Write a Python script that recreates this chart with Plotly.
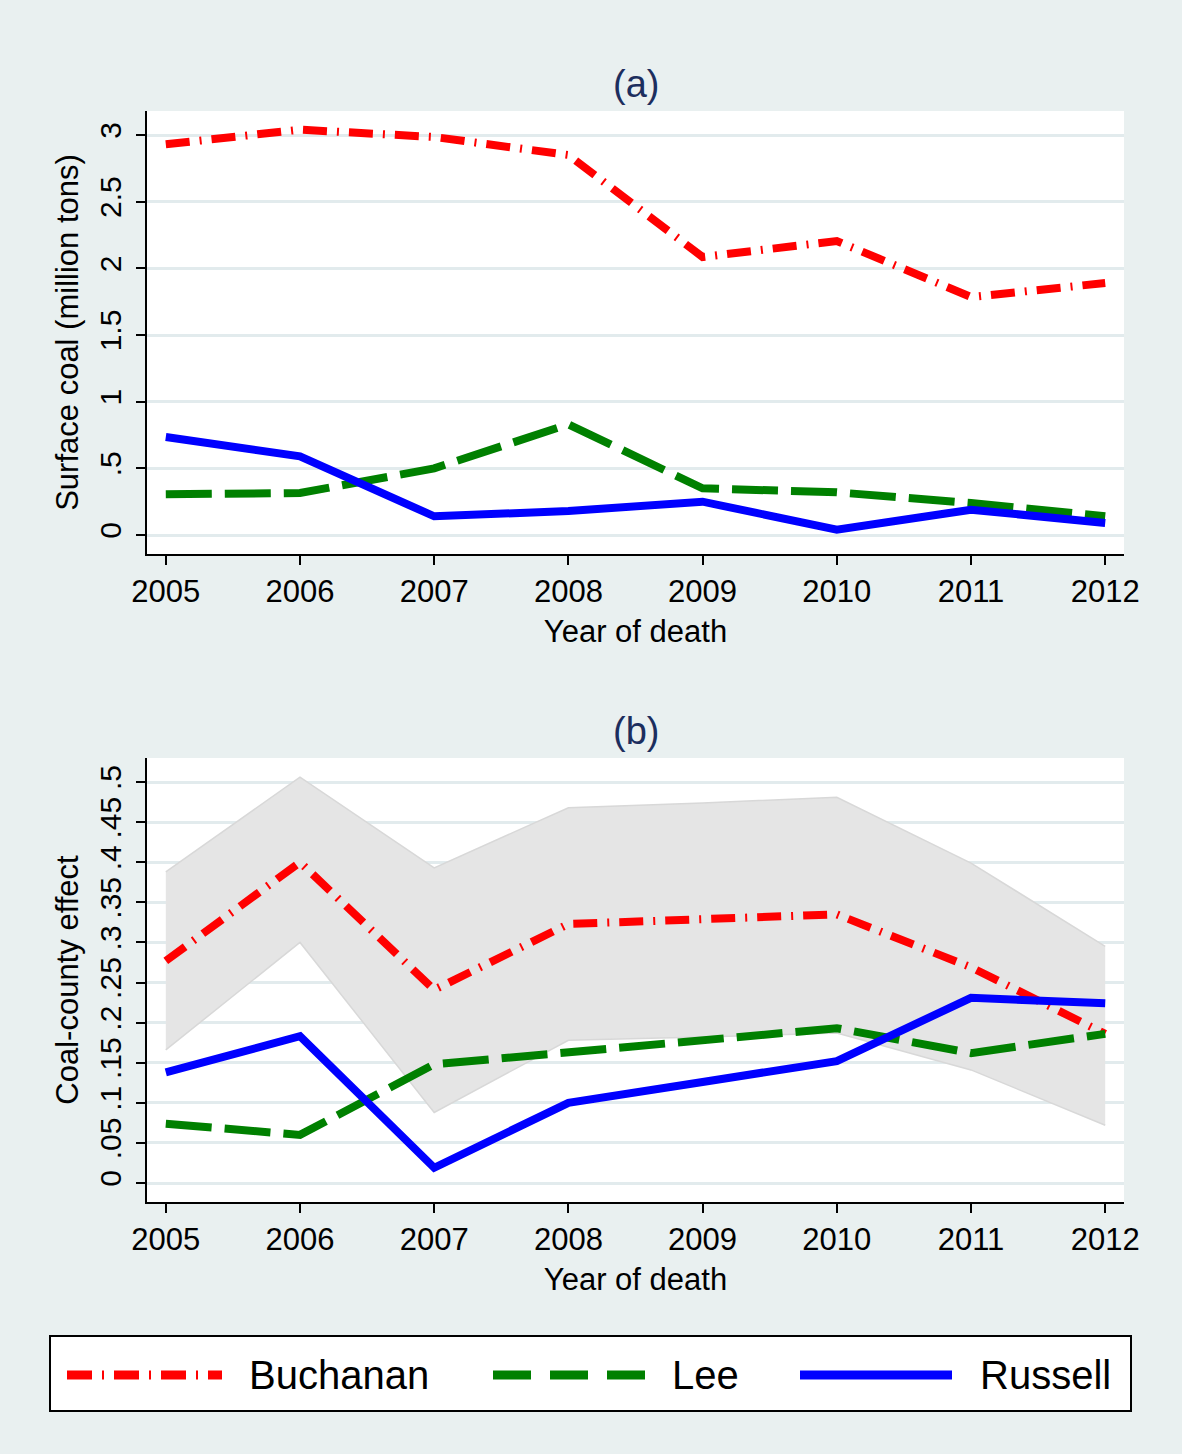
import plotly.graph_objects as go
from plotly.subplots import make_subplots

years = [2005, 2006, 2007, 2008, 2009, 2010, 2011, 2012]

# panel (a): surface coal, million tons
coal_buchanan = [2.93, 3.04, 2.985, 2.85, 2.085, 2.205, 1.785, 1.89]
coal_lee = [0.305, 0.315, 0.50, 0.83, 0.35, 0.32, 0.24, 0.14]
coal_russell = [0.735, 0.59, 0.14, 0.18, 0.25, 0.04, 0.19, 0.09]

# panel (b): coal-county effect
eff_buchanan = [0.277, 0.40, 0.241, 0.323, 0.329, 0.335, 0.269, 0.186]
eff_lee = [0.074, 0.06, 0.148, 0.163, 0.178, 0.193, 0.162, 0.186]
eff_russell = [0.138, 0.183, 0.019, 0.10, 0.126, 0.152, 0.231, 0.224]
ci_upper = [0.388, 0.506, 0.393, 0.468, 0.474, 0.481, 0.399, 0.295]
ci_lower = [0.166, 0.30, 0.088, 0.178, 0.182, 0.187, 0.141, 0.072]

ticks_a = [0, 0.5, 1, 1.5, 2, 2.5, 3]
ticklabels_a = ["0", ".5", "1", "1.5", "2", "2.5", "3"]
ticks_b = [0, 0.05, 0.1, 0.15, 0.2, 0.25, 0.3, 0.35, 0.4, 0.45, 0.5]
ticklabels_b = ["0", ".05", ".1", ".15", ".2", ".25", ".3", ".35", ".4", ".45", ".5"]

counties = ["Buchanan", "Lee", "Russell"]
colors = {"Buchanan": "#FF0000", "Lee": "#008000", "Russell": "#0000FF"}
dashes = {"Buchanan": "24px,10px,2px,10px", "Lee": "46px,13px", "Russell": "solid"}
legend_dashes = {"Buchanan": "25px,10px,2px,10px", "Lee": "38px,19px", "Russell": "solid"}

FONT = "Liberation Sans, Arial, Helvetica, sans-serif"
BG = "#E9F0F0"
GRID = "#E2EBED"
NAVY = "#1C2E5E"
W, H = 1182, 1454

fig = make_subplots(rows=2, cols=1)

# confidence band for panel (b)
fig.add_trace(go.Scatter(x=years, y=ci_lower, mode="lines",
                         line=dict(color="#D8D8D8", width=1.5),
                         showlegend=False, hoverinfo="skip"), row=2, col=1)
fig.add_trace(go.Scatter(x=years, y=ci_upper, mode="lines", fill="tonexty",
                         fillcolor="#E5E5E5",
                         line=dict(color="#D8D8D8", width=1.5),
                         showlegend=False, hoverinfo="skip"), row=2, col=1)

top = {"Buchanan": coal_buchanan, "Lee": coal_lee, "Russell": coal_russell}
bottom = {"Buchanan": eff_buchanan, "Lee": eff_lee, "Russell": eff_russell}
for c in counties:
    fig.add_trace(go.Scatter(x=years, y=top[c], mode="lines", name=c,
                             line=dict(color=colors[c], width=8, dash=dashes[c]),
                             showlegend=False), row=1, col=1)
    fig.add_trace(go.Scatter(x=years, y=bottom[c], mode="lines", name=c,
                             line=dict(color=colors[c], width=8, dash=dashes[c]),
                             showlegend=False), row=2, col=1)

x_common = dict(range=[2004.86, 2012.14], tickvals=years, automargin=False,
                showline=True, linecolor="black", linewidth=2,
                ticks="outside", ticklen=9, tickwidth=2, tickcolor="black",
                showgrid=False, zeroline=False,
                tickfont=dict(family=FONT, size=31, color="black"),
                title=dict(text="Year of death", standoff=12,
                           font=dict(family=FONT, size=31, color="black")))
y_common = dict(showline=True, linecolor="black", linewidth=2, automargin=False,
                ticks="outside", ticklen=9, tickwidth=2, tickcolor="black",
                showgrid=True, gridcolor=GRID, gridwidth=3, zeroline=False,
                tickangle=-90, ticklabelstandoff=3,
                tickfont=dict(family=FONT, size=30, color="black"))

fig.update_xaxes(**x_common, domain=[147 / W, 1124 / W])
fig.update_yaxes(**y_common)
fig.update_yaxes(range=[-0.1425, 3.18], tickvals=ticks_a, ticktext=ticklabels_a,
                 domain=[1 - 554 / H, 1 - 111 / H],
                 title=dict(text="Surface coal (million tons)", standoff=6,
                            font=dict(family=FONT, size=31, color="black")),
                 row=1, col=1)
fig.update_yaxes(range=[-0.0237, 0.530], tickvals=ticks_b, ticktext=ticklabels_b,
                 domain=[1 - 1202 / H, 1 - 758 / H],
                 title=dict(text="Coal-county effect", standoff=6,
                            font=dict(family=FONT, size=31, color="black")),
                 row=2, col=1)

# panel titles
for label, ypos in [("(a)", 84), ("(b)", 731)]:
    fig.add_annotation(text=label, x=636 / W, y=1 - ypos / H,
                       xref="paper", yref="paper", showarrow=False,
                       xanchor="center", yanchor="middle",
                       font=dict(family=FONT, size=38, color=NAVY))

# legend box drawn in paper space
fig.add_shape(type="rect", xref="paper", yref="paper",
              x0=50 / W, x1=1131 / W, y0=1 - 1411 / H, y1=1 - 1336 / H,
              fillcolor="white", line=dict(color="black", width=2))
legend_pos = {"Buchanan": (67, 222, 247), "Lee": (493, 645, 670), "Russell": (800, 952, 978)}
ly = 1 - 1375 / H
for c in counties:
    s0, s1, tx = legend_pos[c]
    fig.add_shape(type="line", xref="paper", yref="paper",
                  x0=s0 / W, x1=s1 / W, y0=ly, y1=ly,
                  line=dict(color=colors[c], width=9, dash=legend_dashes[c]))
    fig.add_annotation(text=c, x=tx / W, y=ly, xref="paper", yref="paper",
                       showarrow=False, xanchor="left", yanchor="middle",
                       font=dict(family=FONT, size=40, color="black"))

fig.update_layout(width=W, height=H,
                  margin=dict(l=0, r=0, t=0, b=0),
                  paper_bgcolor=BG, plot_bgcolor="white",
                  showlegend=False)

fig.write_html("out.html", config={"displayModeBar": False},
               post_script="document.body.style.margin='0';"
                           "document.body.style.overflow='hidden';")
